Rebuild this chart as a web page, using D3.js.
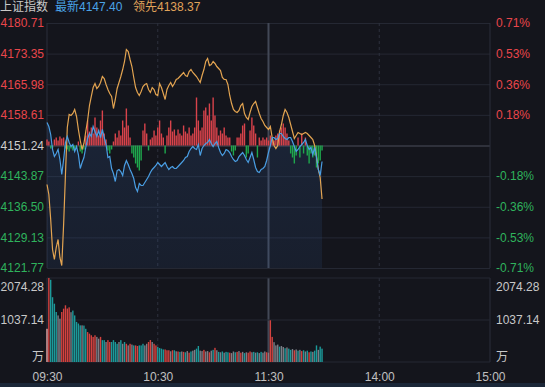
<!DOCTYPE html>
<html><head><meta charset="utf-8">
<script src="https://cdn.jsdelivr.net/npm/d3@7/dist/d3.min.js"></script>
<style>
html,body{margin:0;padding:0;background:#14151c;overflow:hidden;}
svg{display:block;}
text{font-family:"Liberation Sans",Arial,"Noto Sans CJK SC",sans-serif;}
</style></head><body>
<svg id="c" width="545" height="387"></svg>
<script>
// ---------- data ----------
const indexName = "上证指数";
const prevClose = 4151.24;
const latestLabel = "最新4147.40";
const leadLabel = "领先4138.37";

const priceTicks = [4180.71, 4173.35, 4165.98, 4158.61, 4151.24, 4143.87, 4136.50, 4129.13, 4121.77];
const pctLabels = ["0.71%", "0.53%", "0.36%", "0.18%", "", "-0.18%", "-0.36%", "-0.53%", "-0.71%"];
const volTicks = [2074.28, 1037.14];
const volUnit = "万";
const timeIdx = [0, 60, 120, 180, 240];
const timeLabels = ["09:30", "10:30", "11:30", "14:00", "15:00"];

// 最新 (blue) per minute
const latest = [4156.77,4155.81,4153.89,4150.28,4148.59,4149.32,4150.28,4147.87,4144.26,4147.87,
4151.96,4153.41,4151.96,4151.00,4151.48,4149.80,4151.00,4149.07,4145.71,4147.15,
4148.35,4150.76,4152.92,4154.13,4153.41,4155.81,4154.61,4153.41,4154.85,4153.16,
4155.09,4153.16,4151.48,4148.35,4148.59,4145.71,4144.50,4142.58,4145.22,4145.47,
4144.98,4144.02,4146.43,4147.63,4146.67,4145.47,4144.50,4143.30,4141.13,4140.17,
4142.10,4141.62,4141.62,4142.34,4143.06,4143.78,4144.74,4145.47,4145.95,4146.43,
4147.15,4146.67,4146.19,4146.67,4147.15,4146.19,4145.47,4145.95,4146.19,4145.71,
4145.71,4146.19,4146.67,4147.15,4147.63,4148.35,4148.59,4149.80,4150.52,4151.00,
4150.52,4150.28,4151.48,4148.83,4150.52,4151.24,4151.72,4151.96,4152.68,4151.72,
4151.00,4151.72,4152.20,4150.76,4149.56,4148.83,4149.32,4150.28,4150.04,4149.56,
4148.59,4147.87,4147.39,4147.63,4148.59,4149.07,4149.56,4148.83,4147.87,4147.15,
4148.35,4149.56,4147.87,4145.95,4144.98,4144.74,4145.47,4145.71,4146.19,4147.63,
4149.56,4151.24,4153.16,4153.16,4152.68,4152.92,4154.13,4154.13,4153.41,4152.92,
4152.68,4153.16,4153.16,4152.20,4151.00,4149.80,4150.28,4151.00,4151.48,4151.96,
4152.68,4151.24,4150.28,4150.76,4149.07,4150.76,4148.35,4145.47,4144.02,4147.40];

// 领先 (orange) per minute
const lead = [4141.86,4139.45,4133.44,4126.22,4123.82,4126.70,4128.63,4124.30,4122.37,4132.24,
4144.26,4155.57,4158.70,4158.46,4158.94,4159.90,4158.22,4155.09,4152.44,4150.28,
4151.72,4154.61,4157.25,4160.86,4163.03,4165.19,4166.15,4164.95,4165.43,4166.40,
4167.84,4167.36,4165.91,4164.71,4163.75,4163.03,4160.14,4162.31,4164.95,4166.40,
4167.84,4169.52,4171.45,4174.33,4173.85,4171.93,4170.24,4167.60,4165.19,4163.99,
4163.27,4164.23,4165.43,4165.91,4166.15,4164.71,4163.99,4165.19,4164.71,4163.51,
4163.27,4166.15,4165.19,4163.75,4162.31,4164.71,4165.67,4166.40,4165.43,4166.15,
4167.12,4167.36,4167.84,4168.32,4168.80,4168.08,4167.84,4169.04,4169.52,4168.80,
4168.32,4167.84,4167.12,4166.40,4168.08,4169.52,4171.45,4172.17,4170.48,4170.73,
4171.45,4170.97,4170.24,4169.76,4169.28,4167.60,4167.12,4167.12,4165.91,4163.27,
4161.34,4159.90,4159.42,4159.18,4159.66,4160.86,4161.34,4158.94,4157.98,4157.49,
4159.18,4160.62,4161.34,4161.82,4160.38,4158.94,4157.74,4157.01,4156.05,4155.57,
4155.09,4155.81,4153.16,4151.24,4150.52,4151.24,4154.61,4156.29,4158.46,4159.90,
4159.18,4157.98,4156.29,4154.61,4152.92,4153.65,4154.37,4154.13,4153.89,4154.13,
4154.37,4154.13,4153.65,4153.16,4152.68,4151.24,4148.59,4145.47,4143.54,4138.37];

// buy/sell strength bars (red up, green down)
const strength = [6,4,-3,-3,6,8,5,9,7,8,
-3,-4,-6,-3,-5,-4,-2,4,-6,-8,
-4,10,25,14,18,12,28,18,10,25,
35,12,6,-5,-8,-4,4,12,8,15,
10,25,18,37,20,8,-8,-12,-18,-22,
-25,-15,15,22,12,-5,6,8,15,10,
18,25,12,8,-8,10,18,25,14,16,
10,16,12,10,20,14,12,18,10,12,
18,48,25,15,18,35,38,30,42,25,
48,30,18,10,15,12,18,10,8,8,
-6,-10,-5,8,8,12,20,22,-12,-8,
15,28,20,12,-12,8,5,8,6,8,
5,10,8,5,10,12,15,18,22,18,
12,5,-8,-12,-18,-10,8,-12,12,-8,
8,-10,-18,-8,-12,-10,-22,-18,-15,-5];

// volume (万)
const volume = [820,2074,2030,1600,1440,1235,1150,1070,1235,1317,
1400,1320,1350,1230,1270,1150,990,950,905,905,
900,820,740,700,660,620,660,620,576,620,
540,540,494,540,494,494,540,494,450,494,
540,450,494,450,410,450,430,410,410,395,
410,410,450,410,450,494,543,494,450,410,
370,345,330,310,310,290,290,265,290,290,
265,260,250,260,250,240,270,230,260,280,
300,330,395,280,270,300,260,270,240,280,
300,350,290,250,240,260,230,250,240,230,
220,260,240,250,270,230,250,220,240,230,
260,240,250,230,240,220,250,230,260,240,
230,1030,620,490,410,430,380,395,370,340,
360,330,300,320,290,310,280,300,270,290,
260,280,240,260,250,280,410,300,380,330];

// volume bar direction (1 up, -1 down, 0 flat)
const volDir = [1,1,-1,-1,-1,-1,0,0,1,1,
1,1,1,0,-1,-1,-1,-1,-1,0,
-1,-1,1,1,1,1,1,0,0,1,
-1,-1,0,1,1,-1,-1,-1,-1,0,
-1,0,-1,1,0,1,0,-1,1,1,
-1,-1,-1,0,0,1,1,0,1,1,
-1,-1,-1,-1,1,1,1,0,1,-1,
0,1,-1,0,1,-1,0,1,-1,0,
0,-1,-1,0,0,1,0,0,1,0,
-1,1,0,-1,0,-1,0,-1,-1,1,
0,0,-1,1,0,1,0,-1,0,1,
1,0,-1,0,-1,0,-1,0,0,1,
0,1,1,0,0,0,-1,0,0,-1,
0,-1,-1,0,1,0,-1,0,1,-1,
0,-1,1,-1,0,-1,-1,0,-1,-1];

// ---------- layout ----------
const L = 47, R = 490;
const mainTop = 23, mainBot = 268;
const volTop = 278, volBot = 362;

const svg = d3.select("#c");
svg.append("rect").attr("width",545).attr("height",387).attr("fill","#14151c");

const x = d3.scaleLinear().domain([0, 240]).range([L, R]);
const y = d3.scaleLinear().domain([priceTicks[8], priceTicks[0]]).range([mainBot, mainTop]);
const base = y(prevClose);
const sY = d3.scaleLinear().domain([-50, 50]).range([base + 50, base - 50]);
const vy = d3.scaleLinear().domain([0, volTicks[0]]).range([volBot, volTop]);

const gridCol = "#252833";

// ---------- main grid ----------
const gGrid = svg.append("g").attr("transform", `translate(${L},0)`)
  .call(d3.axisLeft(y).tickValues(priceTicks).tickSize(-(R - L)).tickFormat(""));
gGrid.select(".domain").remove();
gGrid.selectAll(".tick line").attr("stroke", d => d === prevClose ? "#4a4e5a" : gridCol);

// vertical lines main + volume
function vlines(top, bot) {
  const g = svg.append("g");
  g.selectAll("line").data(timeIdx).join("line")
    .attr("x1", d => x(d)).attr("x2", d => x(d))
    .attr("y1", top).attr("y2", bot)
    .attr("stroke", d => d === 120 ? "#424856" : (d === 0 || d === 240 ? "#2a2e3a" : "#2c313d"))
    .attr("stroke-width", d => d === 120 ? 2 : 1)
    .attr("stroke-dasharray", d => (d === 60 || d === 180) ? "3,3" : null);
}
vlines(mainTop, mainBot);
vlines(volTop, volBot);

// volume grid
svg.append("g").selectAll("line").data([volTicks[0], volTicks[1], 0]).join("line")
  .attr("x1", L).attr("x2", R).attr("y1", d => vy(d)).attr("y2", d => vy(d))
  .attr("stroke", gridCol);

// ---------- area under latest ----------
const defs = svg.append("defs");
const grad = defs.append("linearGradient").attr("id", "ag").attr("x1", 0).attr("y1", 0).attr("x2", 0).attr("y2", 1);
grad.append("stop").attr("offset", "0%").attr("stop-color", "rgb(50,90,150)").attr("stop-opacity", 0.22);
grad.append("stop").attr("offset", "100%").attr("stop-color", "rgb(50,90,150)").attr("stop-opacity", 0.14);

svg.append("path").datum(latest)
  .attr("fill", "url(#ag)")
  .attr("d", d3.area().x((d, i) => x(i)).y0(mainBot).y1(d => y(d)));

// ---------- strength bars ----------
svg.append("g").selectAll("rect").data(strength).join("rect")
  .attr("x", (d, i) => x(i) - 0.7)
  .attr("width", 1.4)
  .attr("y", d => d > 0 ? sY(d) : base)
  .attr("height", d => Math.abs(sY(d) - base))
  .attr("fill", d => d > 0 ? "#d9434b" : "#1fa84d");

// ---------- lines ----------
svg.append("path").datum(lead)
  .attr("fill", "none").attr("stroke", "#e3a451").attr("stroke-width", 1.2)
  .attr("d", d3.line().x((d, i) => x(i)).y(d => y(d)));
svg.append("path").datum(latest)
  .attr("fill", "none").attr("stroke", "#4a9ee3").attr("stroke-width", 1.2)
  .attr("d", d3.line().x((d, i) => x(i)).y(d => y(d)));

// ---------- volume bars ----------
svg.append("g").selectAll("rect").data(volume).join("rect")
  .attr("x", (d, i) => x(i) - 0.7)
  .attr("width", 1.4)
  .attr("y", d => vy(d))
  .attr("height", d => volBot - vy(d))
  .attr("fill", (d, i) => i === 0 ? "#e6a5a5" : (volDir[i] > 0 ? "#d4423f" : volDir[i] < 0 ? "#1c9a9a" : "#7d7e86"));

// ---------- axes labels ----------
const colorFor = d => d > prevClose ? "#e8464b" : d < prevClose ? "#2fb35c" : "#cfcfcf";

const gL = svg.append("g").attr("transform", `translate(${L},0)`)
  .call(d3.axisLeft(y).tickValues(priceTicks).tickSize(0).tickPadding(3).tickFormat(d3.format(".2f")));
gL.select(".domain").remove();
gL.selectAll("text").attr("fill", colorFor).attr("font-size", 12).attr("font-family", '"Liberation Sans",Arial,sans-serif');

const gR = svg.append("g").attr("transform", `translate(${R},0)`)
  .call(d3.axisRight(y).tickValues(priceTicks).tickSize(0).tickPadding(6).tickFormat((d, i) => pctLabels[i]));
gR.select(".domain").remove();
gR.selectAll("text").attr("fill", colorFor).attr("font-size", 12).attr("font-family", '"Liberation Sans",Arial,sans-serif');

// volume axes
const gVL = svg.append("g").attr("transform", `translate(${L},0)`)
  .call(d3.axisLeft(vy).tickValues(volTicks).tickSize(0).tickPadding(3).tickFormat(d3.format(".2f")));
gVL.select(".domain").remove();
const gVR = svg.append("g").attr("transform", `translate(${R},0)`)
  .call(d3.axisRight(vy).tickValues(volTicks).tickSize(0).tickPadding(6).tickFormat(d3.format(".2f")));
gVR.select(".domain").remove();
[gVL, gVR].forEach(g => g.selectAll("text")
  .attr("fill", "#c8c8c8").attr("font-size", 12).attr("font-family", '"Liberation Sans",Arial,sans-serif')
  .attr("dy", d => d === volTicks[0] ? "1.05em" : "0.32em"));

svg.append("text").attr("x", L - 3).attr("y", volBot - 1).attr("text-anchor", "end")
  .attr("fill", "#c8c8c8").attr("font-size", 12).attr("font-family", '"Noto Sans CJK SC",sans-serif').text(volUnit);
svg.append("text").attr("x", R + 6).attr("y", volBot - 1)
  .attr("fill", "#c8c8c8").attr("font-size", 12).attr("font-family", '"Noto Sans CJK SC",sans-serif').text(volUnit);

// time axis
const gX = svg.append("g").attr("transform", `translate(0,${volBot})`)
  .call(d3.axisBottom(x).tickValues(timeIdx).tickSize(0).tickPadding(10).tickFormat((d, i) => timeLabels[i]));
gX.select(".domain").remove();
gX.selectAll("text").attr("fill", "#c0c0c0").attr("font-size", 12).attr("font-family", '"Liberation Sans",Arial,sans-serif');

// bottom band
svg.append("rect").attr("x", 0).attr("y", 383).attr("width", 545).attr("height", 4).attr("fill", "#1b2738");

// ---------- header ----------
const hy = 10.5;
svg.append("text").attr("x", 0).attr("y", hy).attr("font-size", 12).attr("fill", "#c9c9c9")
  .attr("font-family", '"Noto Sans CJK SC",sans-serif').text(indexName);
svg.append("text").attr("x", 55).attr("y", hy).attr("font-size", 12).attr("fill", "#4aa3e6")
  .attr("font-family", '"Noto Sans CJK SC",sans-serif').text(latestLabel);
svg.append("text").attr("x", 133).attr("y", hy).attr("font-size", 12).attr("fill", "#e0a35a")
  .attr("font-family", '"Noto Sans CJK SC",sans-serif').text(leadLabel);
</script>
</body></html>
